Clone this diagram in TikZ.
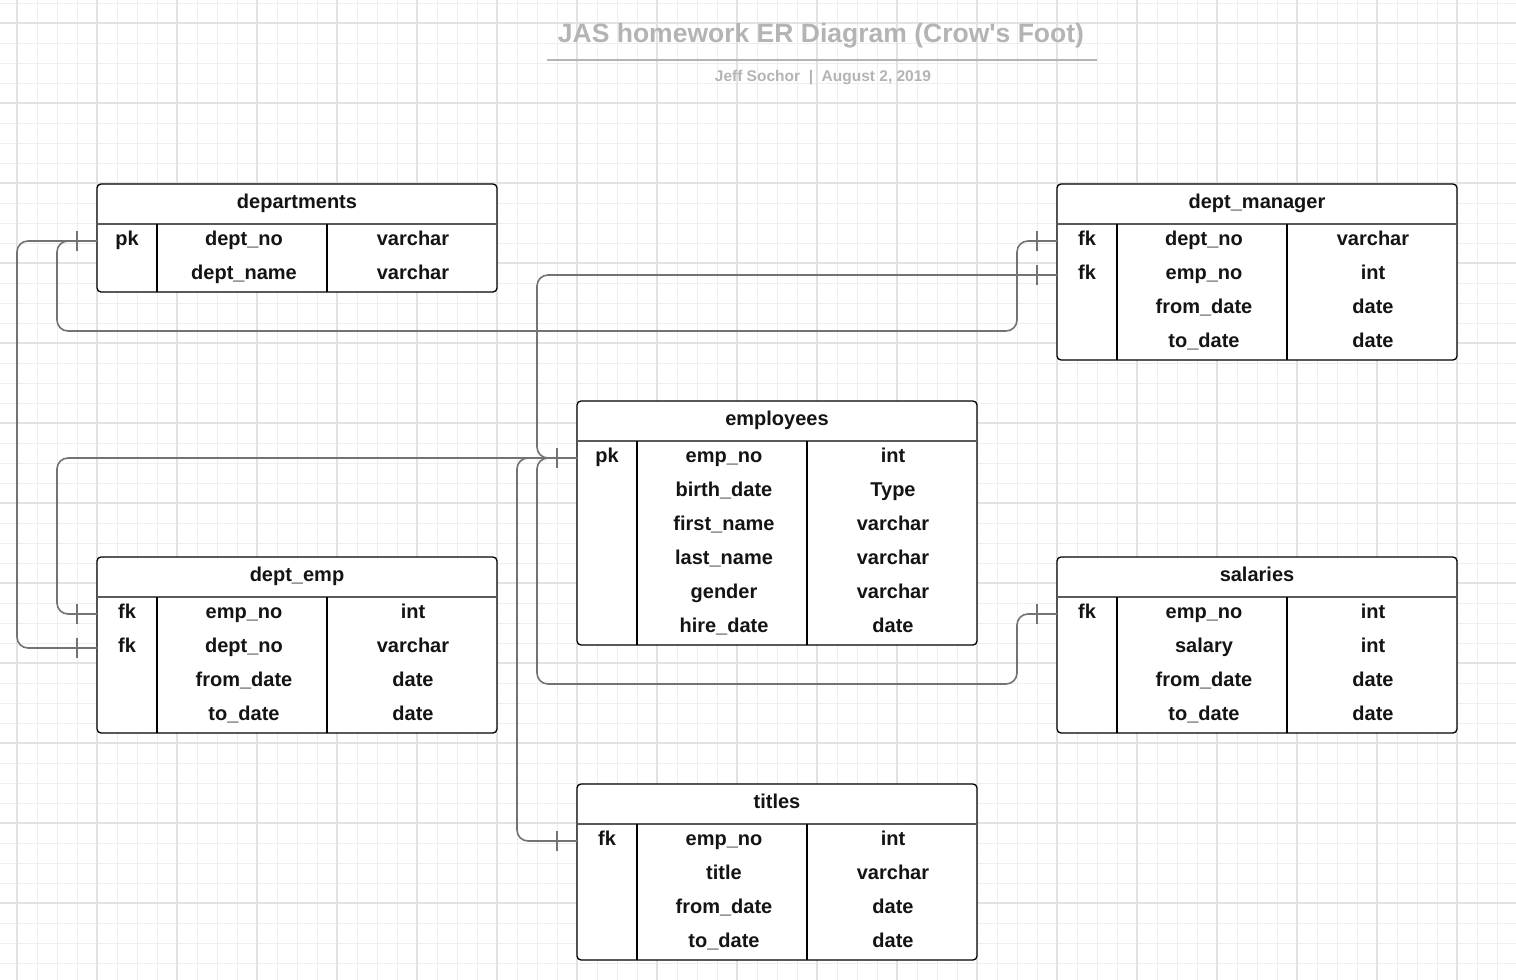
\documentclass[tikz,border=0pt]{standalone}
\usepackage{fontspec}
\setmainfont{Liberation Sans}
\usetikzlibrary{calc}
\definecolor{gridminor}{RGB}{238,238,238}
\definecolor{gridmajor}{RGB}{226,226,226}
\definecolor{conncol}{RGB}{115,115,115}
\definecolor{titlecol}{RGB}{180,180,180}
\definecolor{hdrline}{RGB}{90,90,90}
\definecolor{txtcol}{RGB}{20,20,20}
\tikzset{
  gminor/.style={draw=gridminor, line width=1pt},
  gmajor/.style={draw=gridmajor, line width=1.2pt},
  conn/.style={draw=conncol, line width=1.6pt, rounded corners=11pt},
  tick/.style={draw=conncol, line width=1.6pt},
  tablebox/.style={draw=black, fill=white, line width=1.3pt, rounded corners=4pt},
  hdr/.style={draw=hdrline, line width=1.3pt},
  coldiv/.style={draw=black, line width=1.2pt},
  txt/.style={anchor=base, inner sep=0pt, text=txtcol, font=\fontsize{20}{24}\selectfont\bfseries},
}
% #1 id, #2 left, #3 top, #4 nrows, #5 title
\newcommand\ertable[5]{%
  \pgfmathsetmacro\erbot{#3+40+34*#4}%
  \draw[tablebox] (#2,#3) rectangle (#2+400,\erbot);
  \draw[hdr] (#2,#3+40) -- (#2+400,#3+40);
  \draw[coldiv] (#2+60,#3+40) -- (#2+60,\erbot);
  \draw[coldiv] (#2+230,#3+40) -- (#2+230,\erbot);
  \node[txt] (#1-title) at (#2+200,#3+24) {#5};
}
% #1 id, #2 left, #3 top, #4 row, #5 key, #6 name, #7 type
\newcommand\errow[7]{%
  \coordinate (#1-L#4) at (#2,#3+40+17+34*#4-34);
  \node[txt] (#1-k#4) at (#2+30,#3+40+21+34*#4-34) {#5};
  \node[txt] (#1-n#4) at (#2+147,#3+40+21+34*#4-34) {#6};
  \node[txt] (#1-t#4) at (#2+316,#3+40+21+34*#4-34) {#7};
}
\begin{document}
\begin{tikzpicture}[x=1pt,y=-1pt]
\useasboundingbox (0,0) rectangle (1516,980);
\fill[white] (0,0) rectangle (1516,980);
% grid
\foreach \x in {17,37,...,1516} \draw[gminor] (\x,0) -- (\x,980);
\foreach \y in {3,23,...,980} \draw[gminor] (0,\y) -- (1516,\y);
\foreach \x in {17,97,...,1516} \draw[gmajor] (\x,0) -- (\x,980);
\foreach \y in {23,103,...,980} \draw[gmajor] (0,\y) -- (1516,\y);
% title
\node[anchor=base, inner sep=0pt, text=titlecol, font=\fontsize{26.5}{30}\selectfont\bfseries] (title) at (821,42) {JAS homework ER Diagram (Crow\textquotesingle s Foot)};
\coordinate (tl1) at (547,60);
\coordinate (tl2) at (1097,60);
\draw[draw=titlecol, line width=2pt] (tl1) -- (tl2);
\node[anchor=base, inner sep=0pt, text=titlecol, font=\fontsize{15.5}{18}\selectfont\bfseries] (subtitle) at (823,81) {Jeff Sochor~~|~~August 2, 2019};
% tables
\ertable{dep}{97}{184}{2}{departments}
\errow{dep}{97}{184}{1}{pk}{dept\_no}{varchar}
\errow{dep}{97}{184}{2}{}{dept\_name}{varchar}

\ertable{dm}{1057}{184}{4}{dept\_manager}
\errow{dm}{1057}{184}{1}{fk}{dept\_no}{varchar}
\errow{dm}{1057}{184}{2}{fk}{emp\_no}{int}
\errow{dm}{1057}{184}{3}{}{from\_date}{date}
\errow{dm}{1057}{184}{4}{}{to\_date}{date}

\ertable{emp}{577}{401}{6}{employees}
\errow{emp}{577}{401}{1}{pk}{emp\_no}{int}
\errow{emp}{577}{401}{2}{}{birth\_date}{Type}
\errow{emp}{577}{401}{3}{}{first\_name}{varchar}
\errow{emp}{577}{401}{4}{}{last\_name}{varchar}
\errow{emp}{577}{401}{5}{}{gender}{varchar}
\errow{emp}{577}{401}{6}{}{hire\_date}{date}

\ertable{de}{97}{557}{4}{dept\_emp}
\errow{de}{97}{557}{1}{fk}{emp\_no}{int}
\errow{de}{97}{557}{2}{fk}{dept\_no}{varchar}
\errow{de}{97}{557}{3}{}{from\_date}{date}
\errow{de}{97}{557}{4}{}{to\_date}{date}

\ertable{sal}{1057}{557}{4}{salaries}
\errow{sal}{1057}{557}{1}{fk}{emp\_no}{int}
\errow{sal}{1057}{557}{2}{}{salary}{int}
\errow{sal}{1057}{557}{3}{}{from\_date}{date}
\errow{sal}{1057}{557}{4}{}{to\_date}{date}

\ertable{ti}{577}{784}{4}{titles}
\errow{ti}{577}{784}{1}{fk}{emp\_no}{int}
\errow{ti}{577}{784}{2}{}{title}{varchar}
\errow{ti}{577}{784}{3}{}{from\_date}{date}
\errow{ti}{577}{784}{4}{}{to\_date}{date}

% connectors
\draw[conn] (dep-L1) -- ++(-80,0) |- (de-L2);
\draw[conn] (dep-L1) -- ++(-40,0) -- ++(0,90) -| ($(dm-L1)+(-40,0)$) -- (dm-L1);
\draw[conn] (emp-L1) -- ++(-40,0) |- (dm-L2);
\draw[conn] (emp-L1) -| ($(de-L1)+(-40,0)$) -- (de-L1);
\draw[conn] (emp-L1) -- ++(-40,0) -- ++(0,226) -| ($(sal-L1)+(-40,0)$) -- (sal-L1);
\draw[conn] (emp-L1) -- ++(-60,0) |- (ti-L1);
% one-bars
\foreach \c in {dep-L1,de-L1,de-L2,dm-L1,dm-L2,emp-L1,sal-L1,ti-L1}
  \draw[tick] ($(\c)+(-20,-10)$) -- ($(\c)+(-20,10)$);
\end{tikzpicture}
\end{document}
